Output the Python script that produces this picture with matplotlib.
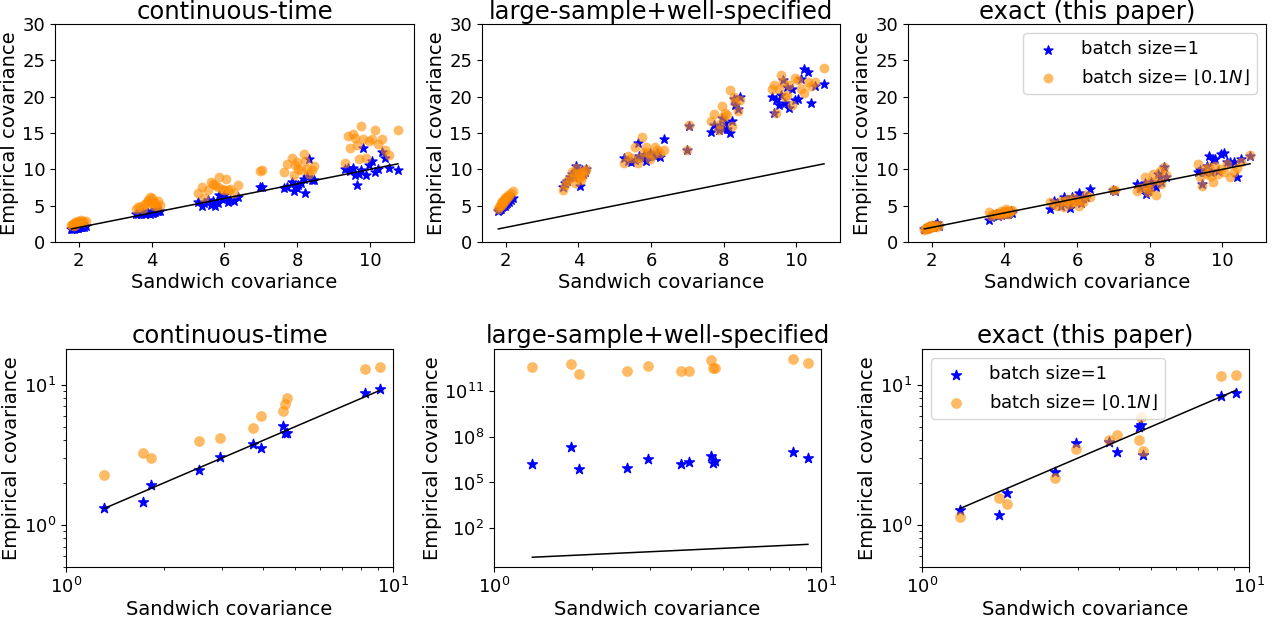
import numpy as np
import matplotlib
matplotlib.use('Agg')
import matplotlib.pyplot as plt
from matplotlib.ticker import NullLocator, NullFormatter

# ============================================================================
# DATA - top row (linear axes), points grouped by cluster of sandwich cov.
# ============================================================================

sandwich_top = np.array(
    [1.80, 1.82, 1.85, 1.87, 1.89, 1.91, 1.93, 1.95, 1.97, 1.99, 2.01, 2.04, 2.07, 2.10, 2.14, 2.19]
    + [3.58, 3.63, 3.70, 3.76, 3.82, 3.87, 3.91, 3.95, 3.98, 4.01, 4.04, 4.07, 4.10, 4.14, 4.18, 4.22]
    + [5.26, 5.38, 5.45, 5.55, 5.63, 5.68, 5.74, 5.82, 5.86, 5.92, 5.98, 6.05, 6.10, 6.16, 6.26, 6.37]
    + [6.98, 7.04]
    + [7.64, 7.72, 7.86, 7.90, 7.94, 7.98, 8.03, 8.10, 8.18, 8.22, 8.27, 8.32, 8.40, 8.46]
    + [9.32, 9.38, 9.44, 9.52, 9.58, 9.63, 9.68, 9.74, 9.80, 9.88, 9.96, 10.04, 10.13, 10.22, 10.32, 10.40, 10.52, 10.76]
)

# continuous-time
ct_b1 = np.array(
    [1.75, 1.80, 1.86, 1.85, 1.92, 1.90, 1.95, 1.97, 1.98, 2.00, 2.02, 2.04, 2.05, 2.08, 2.12, 2.15]
    + [3.85, 3.80, 3.90, 4.05, 3.85, 3.95, 4.00, 3.90, 4.10, 3.95, 4.05, 4.15, 4.10, 4.25, 4.20, 4.30]
    + [5.5, 5.0, 5.3, 5.8, 5.1, 5.6, 5.0, 5.4, 6.4, 5.9, 6.5, 6.0, 5.5, 5.8, 5.6, 6.2]
    + [7.6, 7.6]
    + [7.5, 7.6, 8.2, 7.0, 7.6, 7.4, 7.8, 8.1, 8.7, 6.7, 8.9, 11.4, 8.6, 8.5]
    + [10.0, 10.2, 9.8, 10.2, 9.2, 7.9, 9.3, 9.9, 12.9, 9.2, 10.6, 11.2, 9.7, 10.0, 12.4, 11.5, 10.2, 9.9]
)
ct_b01 = np.array(
    [2.3, 2.4, 2.5, 2.2, 2.6, 2.7, 2.5, 2.8, 2.6, 2.9, 2.7, 2.8, 3.0, 2.9, 2.7, 2.9]
    + [4.5, 4.8, 5.0, 4.6, 5.2, 5.5, 5.8, 6.2, 5.4, 6.0, 5.6, 5.0, 5.3, 4.9, 5.7, 5.1]
    + [6.7, 7.6, 6.1, 7.2, 8.3, 8.05, 7.8, 7.6, 9.0, 7.3, 7.2, 8.7, 7.15, 7.3, 6.8, 7.8]
    + [9.8, 9.9]
    + [9.7, 10.8, 11.5, 9.2, 10.6, 11.0, 10.1, 9.9, 12.1, 11.2, 10.0, 9.4, 9.9, 10.4]
    + [10.9, 14.6, 13.0, 14.8, 14.25, 13.3, 11.45, 16.0, 14.2, 11.5, 13.9, 14.2, 15.4, 13.5, 14.2, 12.6, 12.0, 15.4]
)

# large-sample + well-specified
ls_b1 = np.array(
    [4.2, 4.4, 4.6, 4.5, 4.8, 5.0, 4.9, 5.1, 5.0, 5.3, 5.2, 5.4, 5.6, 5.5, 5.8, 6.0]
    + [7.6, 8.1, 8.4, 8.9, 9.3, 9.0, 9.6, 10.4, 9.2, 9.8, 7.7, 9.5, 9.9, 9.3, 9.6, 10.0]
    + [11.6, 11.1, 11.0, 11.3, 13.6, 11.8, 11.5, 12.0, 11.2, 11.9, 12.2, 12.0, 11.8, 12.3, 11.7, 14.2]
    + [12.7, 16.0]
    + [15.1, 16.1, 15.4, 15.8, 17.0, 15.5, 16.4, 15.6, 15.0, 16.6, 19.7, 18.8, 18.3, 20.0]
    + [20.0, 17.8, 19.5, 18.8, 20.2, 22.3, 19.1, 21.3, 18.4, 21.1, 19.5, 19.7, 22.5, 23.8, 23.4, 19.1, 21.5, 21.8]
)
ls_b01 = np.array(
    [4.5, 4.8, 5.0, 5.3, 5.1, 5.6, 5.4, 5.8, 5.6, 6.0, 6.2, 6.1, 6.5, 6.3, 6.7, 7.0]
    + [7.2, 7.8, 8.4, 8.8, 9.7, 9.26, 8.1, 10.17, 8.8, 9.5, 9.0, 8.5, 9.7, 9.2, 9.8, 10.0]
    + [10.85, 11.8, 11.5, 13.1, 10.85, 11.6, 14.5, 12.45, 13.1, 12.2, 11.4, 12.0, 13.1, 12.7, 12.3, 12.7]
    + [12.7, 16.1]
    + [16.6, 17.6, 15.4, 16.3, 18.7, 17.2, 17.7, 17.5, 20.9, 16.0, 20.0, 19.2, 18.0, 19.5]
    + [21.0, 21.6, 17.7, 21.1, 23.0, 22.0, 20.0, 20.2, 21.6, 18.8, 22.6, 22.3, 21.1, 20.5, 22.0, 21.5, 22.0, 23.9]
)

# exact (this paper)
ex_b1 = np.array(
    [1.75, 1.85, 1.90, 1.95, 2.0, 1.9, 2.05, 2.0, 2.1, 2.0, 2.15, 2.1, 2.2, 2.3, 2.6, 2.2]
    + [3.06, 3.5, 3.7, 3.8, 3.6, 3.9, 3.7, 4.0, 3.8, 3.9, 4.1, 3.8, 3.9, 4.0, 4.2, 4.0]
    + [4.57, 5.6, 5.3, 5.0, 6.16, 5.8, 5.5, 4.7, 6.26, 5.6, 5.9, 6.7, 5.4, 6.0, 6.2, 7.26]
    + [7.1, 7.0]
    + [7.99, 7.5, 8.08, 6.6, 7.0, 7.6, 8.2, 7.9, 7.53, 9.36, 8.9, 8.2, 10.37, 9.0]
    + [9.6, 9.9, 8.0, 9.6, 10.5, 11.9, 9.6, 11.3, 11.4, 9.8, 12.1, 12.2, 10.96, 11.0, 10.96, 8.9, 11.4, 11.8]
)
ex_b01 = np.array(
    [1.7, 1.8, 1.9, 2.0, 1.85, 2.1, 1.95, 2.2, 2.05, 2.3, 2.1, 2.0, 2.2, 2.3, 2.1, 2.4]
    + [4.1, 3.6, 3.8, 3.9, 4.0, 3.7, 4.2, 3.9, 4.3, 4.0, 4.57, 4.2, 3.8, 4.1, 4.3, 4.4]
    + [5.48, 5.25, 5.0, 5.7, 4.8, 5.6, 5.9, 5.2, 5.48, 6.0, 5.6, 5.0, 5.8, 5.5, 6.4, 6.2]
    + [7.1, 7.2]
    + [7.08, 7.5, 8.9, 7.76, 6.85, 7.3, 8.2, 9.36, 6.4, 8.5, 9.8, 8.0, 10.3, 9.2]
    + [10.7, 8.9, 7.76, 10.0, 9.36, 10.27, 9.1, 8.2, 10.5, 9.36, 10.0, 9.6, 10.7, 8.9, 9.6, 10.2, 11.0, 12.0]
)

# ============================================================================
# DATA - bottom row (log axes)
# ============================================================================

sandwich_bot = [1.31, 1.72, 1.82, 2.55, 2.95, 3.72, 3.96, 4.62, 4.68, 4.74, 8.2, 9.12]

ct_b1_bot = [1.32, 1.45, 1.91, 2.45, 3.06, 3.79, 3.53, 5.08, 4.55, 4.50, 8.71, 9.31]
ct_b01_bot = [2.27, 3.25, 2.98, 3.96, 4.19, 4.91, 6.02, 6.51, 7.27, 8.07, 12.95, 13.39]

ls_b1_bot = [10**6.21, 10**7.35, 10**5.91, 10**5.95, 10**6.52, 10**6.19,
             10**6.32, 10**6.72, 10**6.30, 10**6.43, 10**6.98, 10**6.59]
ls_b01_bot = [10**12.55, 10**12.72, 10**12.07, 10**12.31, 10**12.59, 10**12.31,
              10**12.26, 10**13.00, 10**12.50, 10**12.50, 10**13.07, 10**12.83]

ex_b1_bot = [1.27, 1.17, 1.70, 2.39, 3.83, 3.88, 3.31, 5.02, 5.14, 3.15, 8.34, 8.67]
ex_b01_bot = [1.13, 1.55, 1.42, 2.15, 3.49, 4.01, 4.35, 4.03, 5.86, 3.34, 11.48, 11.73]

titles = ['continuous-time', 'large-sample+well-specified', 'exact (this paper)']
label_b1 = 'batch size=1'
label_b01 = r'batch size= $\lfloor 0.1N \rfloor$'

# ============================================================================
# PLOTTING
# ============================================================================

W, H = 1274, 617
fig = plt.figure(figsize=(W / 100, H / 100), dpi=100)


def px_axes(left, top, width, height):
    return fig.add_axes([left / W, 1 - (top + height) / H, width / W, height / H])


top_axes = [px_axes(55, 24, 359, 218), px_axes(482, 24, 358, 218), px_axes(908, 24, 358, 218)]
bot_axes = [px_axes(66, 349, 327, 218), px_axes(494, 349, 327, 218), px_axes(922, 349, 327, 218)]

top_data = [(ct_b1, ct_b01), (ls_b1, ls_b01), (ex_b1, ex_b01)]
bot_data = [(ct_b1_bot, ct_b01_bot), (ls_b1_bot, ls_b01_bot), (ex_b1_bot, ex_b01_bot)]

orange = 'darkorange'

for i, ax in enumerate(top_axes):
    y1, y2 = top_data[i]
    ax.scatter(sandwich_top, y1, marker='*', s=45, color='blue', label=label_b1, zorder=2)
    ax.scatter(sandwich_top, y2, marker='o', s=50, color=orange, alpha=0.6,
               linewidths=0, label=label_b01, zorder=3)
    lo, hi = sandwich_top.min(), sandwich_top.max()
    ax.plot([lo, hi], [lo, hi], color='black', lw=1.1, zorder=4)
    ax.set_xlim(1.35, 11.2)
    ax.set_ylim(0, 30)
    ax.set_xticks([2, 4, 6, 8, 10])
    ax.set_yticks([0, 5, 10, 15, 20, 25, 30])
    ax.tick_params(labelsize=13)
    ax.set_title(titles[i], fontsize=17.5, pad=2)
    ax.set_xlabel('Sandwich covariance', fontsize=14, labelpad=2)
    ax.set_ylabel('Empirical covariance', fontsize=14, labelpad=2)

top_axes[2].legend(loc='upper right', fontsize=13)

for i, ax in enumerate(bot_axes):
    y1, y2 = bot_data[i]
    ax.scatter(sandwich_bot, y1, marker='*', s=55, color='blue', label=label_b1, zorder=2)
    ax.scatter(sandwich_bot, y2, marker='o', s=60, color=orange, alpha=0.6,
               linewidths=0, label=label_b01, zorder=3)
    lo, hi = min(sandwich_bot), max(sandwich_bot)
    ax.plot([lo, hi], [lo, hi], color='black', lw=1.1, zorder=4)
    ax.set_xscale('log')
    ax.set_yscale('log')
    ax.set_xlim(1, 10)
    ax.xaxis.set_minor_formatter(NullFormatter())
    if i == 1:
        ax.set_ylim(10**-0.52, 10**13.72)
        ax.set_yticks([1e2, 1e5, 1e8, 1e11])
        ax.yaxis.set_minor_locator(NullLocator())
    else:
        ax.set_ylim(0.5, 18)
        ax.yaxis.set_minor_formatter(NullFormatter())
    ax.tick_params(labelsize=13)
    ax.set_title(titles[i], fontsize=17.5, pad=4)
    ax.set_xlabel('Sandwich covariance', fontsize=14, labelpad=2)
    ax.set_ylabel('Empirical covariance', fontsize=14, labelpad=2)

bot_axes[2].legend(loc='upper left', fontsize=13)

plt.savefig('out.png', dpi=100)
plt.close()
